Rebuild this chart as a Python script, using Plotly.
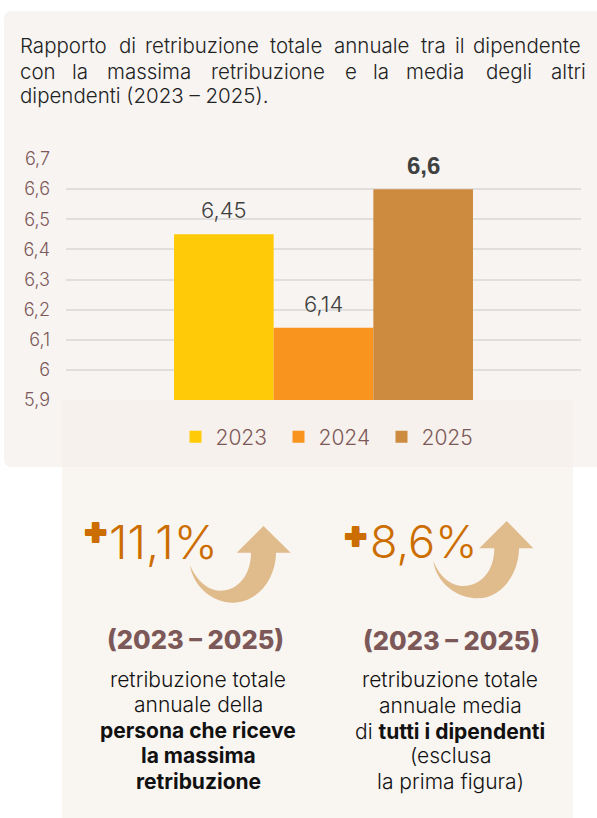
import plotly.graph_objects as go

W, H = 597, 818
years = ["2023", "2024", "2025"]
values = [6.45, 6.14, 6.6]
value_labels = ["6,45", "6,14", "6,6"]
bar_colors = ["#FFCB08", "#F9951E", "#CD8B3F"]
tick_values = [5.9, 6.0, 6.1, 6.2, 6.3, 6.4, 6.5, 6.6, 6.7]
tick_labels = ["5,9", "6", "6,1", "6,2", "6,3", "6,4", "6,5", "6,6", "6,7"]

title_line1 = [("Rapporto", 20), ("di", 119), ("retribuzione", 145), ("totale", 270),
               ("annuale", 334), ("tra", 421), ("il", 455), ("dipendente", 473)]
title_line2 = [("con", 20), ("la", 72), ("massima", 107), ("retribuzione", 211),
               ("e", 345), ("la", 373), ("media", 406), ("degli", 486), ("altri", 551)]
title_line3 = [("dipendenti (2023 – 2025).", 20)]

FONT = "Inter"
BROWN = "#7C5858"
ORANGE = "#CC6D00"
DARK = "#222222"
ARROW = "#E0BB8B"
THICK = ", ".join(f"{a}px {b}px 0 {ORANGE}" for a, b in ((1, 0), (-1, 0), (0, 1), (0, -1), (1, 1), (-1, -1), (1, -1), (-1, 1)))

px = lambda x: x / W
py = lambda y: 1 - y / H
def pt(x, y):
    return f"{px(x):.5f} {py(y):.5f}"

def note(text, x, y, size, color, weight=300, anchor="left", family=FONT, shadow=None):
    font = dict(family=family, size=size, color=color, weight=weight)
    if shadow:
        font["shadow"] = shadow
    return dict(text=text, xref="paper", yref="paper", x=px(x), y=py(y), xanchor=anchor, yanchor="middle",
                showarrow=False, align="center", borderpad=0, font=font)

def arrow(apex, bl, br, sl, sr, tip, outer, inner):
    return (f"M {pt(*apex)} L {pt(*br)} L {pt(*sr)} "
            f"C {pt(*outer[0])} {pt(*outer[1])} {pt(*outer[2])} "
            f"C {pt(*outer[3])} {pt(*outer[4])} {pt(*tip)} "
            f"C {pt(*inner[0])} {pt(*inner[1])} {pt(*inner[2])} "
            f"C {pt(*inner[3])} {pt(*inner[4])} {pt(*sl)} L {pt(*bl)} Z")

fig = go.Figure()
for y, v, c in zip(years, values, bar_colors):
    fig.add_trace(go.Bar(x=[y], y=[v], name=y, marker=dict(color=c, line=dict(width=0)), width=1,
                         hoverinfo="skip"))

ann = []
for i, (v, t) in enumerate(zip(values, value_labels)):
    last = i == 2
    ann.append(dict(text=t, xref="x", yref="y", x=i, y=v, yshift=24, yanchor="middle", xanchor="center",
                    showarrow=False,
                    font=dict(family="Liberation Sans" if last else FONT, size=24 if last else 22,
                              color="#404040", weight=700 if last else 300)))
for line, yy in ((title_line1, 46), (title_line2, 71), (title_line3, 96)):
    for word, xx in line:
        ann.append(note(word, xx - 1, yy, 20.5, DARK))

ann += [
    note("✚", 95.5, 533, 26, ORANGE, 400, "center", "DejaVu Sans", THICK),
    note("11,1%", 108, 541, 47, ORANGE),
    note("✚", 355.5, 536.5, 26, ORANGE, 400, "center", "DejaVu Sans", THICK),
    note("8,6%", 369, 541, 45, ORANGE),
    note("(2023 – 2025)", 195, 639, 25.5, BROWN, 800, "center"),
    note("(2023 – 2025)", 451, 640, 25.5, BROWN, 800, "center"),
]
for text, yy, wt in (("retribuzione totale", 679, 300), ("annuale della", 704, 300),
                     ("persona che riceve", 730, 700), ("la massima", 755, 700), ("retribuzione", 781, 700)):
    ann.append(note(text, 198, yy, 21, "#111111", wt, "center"))
for text, yy, wt in (("retribuzione totale", 679, 300), ("annuale media", 705, 300),
                     ("di <b>tutti i dipendenti</b>", 731, 300), ("(esclusa", 755, 300), ("la prima figura)", 781, 300)):
    ann.append(note(text, 450, yy, 21, "#111111", wt, "center"))

r = 8
panel_top = (f"M {pt(4 + r, 11)} L {pt(597, 11)} L {pt(597, 467)} L {pt(4 + r, 467)} "
             f"Q {pt(4, 467)} {pt(4, 467 - r)} L {pt(4, 11 + r)} Q {pt(4, 11)} {pt(4 + r, 11)} Z")
shapes = [
    dict(type="path", xref="paper", yref="paper", path=panel_top, fillcolor="#F7F4F2", line_width=0, layer="below"),
    dict(type="rect", xref="paper", yref="paper", x0=px(62), x1=px(573), y0=py(400), y1=py(818),
         fillcolor="rgba(245,238,232,0.6)", line_width=0, layer="above"),
    dict(type="path", xref="paper", yref="paper", fillcolor=ARROW, line_width=0, layer="above",
         path=arrow((263.5, 526), (236.7, 552.7), (290.7, 552.7), (251, 552.7), (276, 552.7), (190, 565),
                    [(276, 578), (258, 602.7), (233, 602.7), (212, 602.7), (193, 586)],
                    [(196, 580), (208, 590.7), (220, 590.7), (238, 590.7), (251, 575)])),
    dict(type="path", xref="paper", yref="paper", fillcolor=ARROW, line_width=0, layer="above",
         path=arrow((506.7, 521), (479.3, 548.3), (533.3, 548.3), (494.3, 548.3), (519, 548.3), (433.3, 560.7),
                    [(519, 574), (501, 598.3), (478, 598.3), (456, 598.3), (436, 582)],
                    [(439, 576), (451, 586), (463, 586), (481, 586), (494.3, 571)])),
]

fig.update_layout(
    width=W, height=H, margin=dict(l=0, r=0, t=0, b=0, autoexpand=False), autosize=False,
    paper_bgcolor="white", plot_bgcolor="rgba(0,0,0,0)",
    showlegend=True, barmode="overlay",
    font=dict(family=FONT, color=BROWN),
    xaxis=dict(domain=[px(66), px(581)], type="category", categoryorder="array", categoryarray=years,
               range=[-1.584, 3.584], showticklabels=False, showgrid=False, zeroline=False, ticks="", showline=False),
    yaxis=dict(domain=[py(400), py(159)], range=[5.9, 6.7], tickvals=tick_values, ticktext=tick_labels,
               showgrid=True, gridcolor="#E1DFDD", gridwidth=2, zeroline=False, showline=False,
               ticks="", ticklabelstandoff=15,
               tickfont=dict(family=FONT, size=18, color=BROWN, weight=300)),
    legend=dict(orientation="h", xref="paper", yref="paper", x=px(330), xanchor="center", y=py(437), yanchor="middle",
                bgcolor="rgba(0,0,0,0)", font=dict(family=FONT, size=21, color=BROWN, weight=300),
                entrywidth=58, entrywidthmode="pixels",
                itemclick=False, itemdoubleclick=False),
    shapes=shapes, annotations=ann,
)
fig.write_html("out.html", config={"displayModeBar": False},
               post_script="document.body.style.margin='0';")
